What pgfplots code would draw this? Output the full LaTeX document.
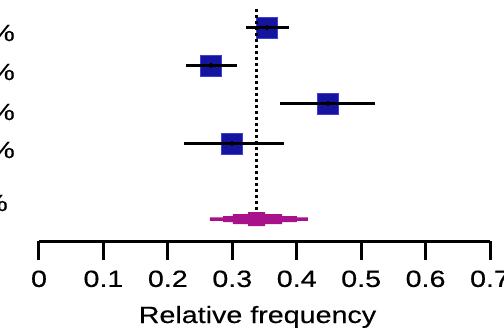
\documentclass[border=0pt]{standalone}
\usepackage{pgfplots}
\pgfplotsset{compat=1.18}
\usepackage{fontspec}
\setmainfont{Liberation Sans}[FakeStretch=1.22, FakeBold=0.4]
\definecolor{sqfill}{HTML}{1414A0}
\definecolor{sqedge}{HTML}{4040D0}
\definecolor{pooled}{HTML}{A8128A}
\begin{document}
\begin{tikzpicture}[font=\fontsize{23.5bp}{28bp}\selectfont]
\useasboundingbox (-39bp,-90bp) rectangle (465bp,241bp);
\clip (-39bp,-90bp) rectangle (465bp,241bp);
\begin{axis}[
  scale only axis, width=451bp, height=241bp,
  xmin=0, xmax=0.7, ymin=0, ymax=241,
  axis x line*=bottom, axis y line=none,
  xtick={0,0.1,0.2,0.3,0.4,0.5,0.6,0.7},
  xticklabels={0,0.1,0.2,0.3,0.4,0.5,0.6,0.7},
  tick align=outside, major tick length=19bp,
  axis line style={line width=3bp, black},
  tick style={line width=3bp, black},
  xticklabel style={yshift=-7bp},
  xlabel={Relative frequency},
  xlabel style={at={(axis description cs:0.5,0)}, anchor=base, yshift=-82bp, xshift=-7bp},
  clip=false,
]
% study squares (estimate +- half side)
\addplot[fill=sqfill, draw=sqedge, line width=1bp] coordinates {(0.3377,202.5) (0.3703,202.5) (0.3703,223.5) (0.3377,223.5)} -- cycle;
\addplot[fill=sqfill, draw=sqedge, line width=1bp] coordinates {(0.2507,164.5) (0.2833,164.5) (0.2833,185.5) (0.2507,185.5)} -- cycle;
\addplot[fill=sqfill, draw=sqedge, line width=1bp] coordinates {(0.4317,126.5) (0.4643,126.5) (0.4643,147.5) (0.4317,147.5)} -- cycle;
\addplot[fill=sqfill, draw=sqedge, line width=1bp] coordinates {(0.2827,86.5) (0.3153,86.5) (0.3153,107.5) (0.2827,107.5)} -- cycle;
% reference (dotted) line at pooled estimate
\addplot[black, line width=3bp, dash pattern=on 3bp off 3bp] coordinates {(0.338,232) (0.338,29)};
% confidence intervals (on top of the squares)
\addplot[black, line width=3bp] coordinates {(0.321,213) (0.388,213)};
\addplot[black, line width=3bp] coordinates {(0.228,175) (0.308,175)};
\addplot[black, line width=3bp] coordinates {(0.374,137) (0.522,137)};
\addplot[black, line width=3bp] coordinates {(0.225,97) (0.380,97)};
% point estimates
\addplot[only marks, mark=|, mark size=2.5bp, mark options={line width=2bp, black}]
  coordinates {(0.354,213) (0.267,175) (0.448,137) (0.299,97)};
% pooled estimate (stepped diamond)
\addplot[fill=pooled, draw=none] coordinates {
 (0.2654,20.25) (0.2856,20.25) (0.2856,19) (0.3011,19) (0.3011,17) (0.3244,17) (0.3244,15)
 (0.3508,15) (0.3508,17) (0.3772,17) (0.3772,19) (0.4004,19) (0.4004,20.25) (0.4175,20.25)
 (0.4175,23.75) (0.4004,23.75) (0.4004,25) (0.3772,25) (0.3772,27) (0.3508,27) (0.3508,29)
 (0.3244,29) (0.3244,27) (0.3011,27) (0.3011,25) (0.2856,25) (0.2856,23.75) (0.2654,23.75)} -- cycle;
% row labels (cut off at the left edge)
\node[anchor=east, inner sep=0pt, xshift=-24bp] at (axis cs:0,208) {35.4\%};
\node[anchor=east, inner sep=0pt, xshift=-24bp] at (axis cs:0,169) {26.7\%};
\node[anchor=east, inner sep=0pt, xshift=-24bp] at (axis cs:0,129) {44.8\%};
\node[anchor=east, inner sep=0pt, xshift=-24bp] at (axis cs:0,91) {29.9\%};
\node[anchor=east, inner sep=0pt, xshift=-31bp] at (axis cs:0,38) {33.8\%};
\end{axis}
\end{tikzpicture}
\end{document}
